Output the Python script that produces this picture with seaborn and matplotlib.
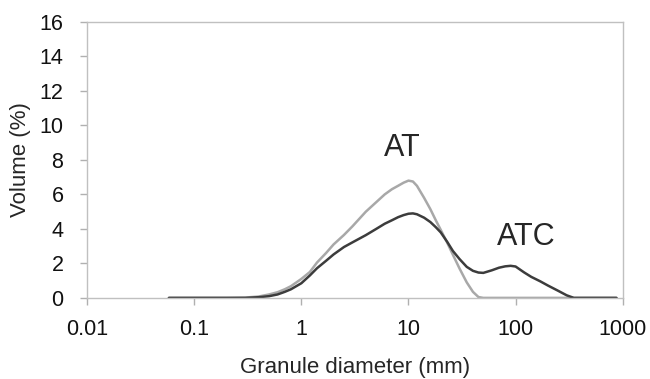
import numpy as np
import pandas as pd
import matplotlib
matplotlib.use("Agg")
import matplotlib.pyplot as plt
import seaborn as sns

sns.set_style("white")
plt.rcParams["font.family"] = ["Liberation Sans", "DejaVu Sans"]

# granule size classes (mm)
size_mm = [0.058, 0.1, 0.2, 0.3, 0.4, 0.5, 0.6, 0.7, 0.8, 1.0, 1.2, 1.4, 1.7,
           2.0, 2.5, 3.0, 4.0, 5.0, 6.0, 7.0, 8.0, 9.0, 10, 11, 12, 14, 16,
           18, 20, 23, 26, 30, 35, 40, 45, 50, 60, 70, 80, 90, 100, 120, 140,
           170, 200, 250, 300, 350, 400, 600, 875]

# AT (light curve)
vol_at = [0, 0, 0, 0.02, 0.08, 0.2, 0.33, 0.5, 0.68, 1.1, 1.5, 2.05, 2.6,
          3.1, 3.65, 4.15, 5.0, 5.55, 6.0, 6.3, 6.5, 6.68, 6.8, 6.75, 6.5,
          5.8, 5.15, 4.5, 3.95, 3.2, 2.5, 1.7, 0.9, 0.35, 0.05, 0, 0, 0, 0,
          0, 0, 0, 0, 0, 0, 0, 0, 0, 0, 0, 0]

# ATC (dark curve)
vol_atc = [0, 0, 0, 0, 0.04, 0.1, 0.2, 0.35, 0.5, 0.85, 1.3, 1.72, 2.15,
           2.52, 2.95, 3.22, 3.64, 4.0, 4.3, 4.5, 4.68, 4.8, 4.88, 4.9, 4.85,
           4.65, 4.4, 4.1, 3.8, 3.25, 2.72, 2.25, 1.8, 1.57, 1.47, 1.45, 1.6,
           1.75, 1.83, 1.86, 1.82, 1.48, 1.22, 0.96, 0.72, 0.41, 0.15, 0, 0,
           0, 0]

xtick_vals = [0.01, 0.1, 1, 10, 100, 1000]
xtick_labels = ["0.01", "0.1", "1", "10", "100", "1000"]
ytick_vals = [0, 2, 4, 6, 8, 10, 12, 14, 16]

df = pd.concat([
    pd.DataFrame({"size": size_mm, "vol": vol_at, "sample": "AT"}),
    pd.DataFrame({"size": size_mm, "vol": vol_atc, "sample": "ATC"}),
])

fig = plt.figure(figsize=(6.5, 3.79), dpi=100)
ax = fig.add_axes([0.134, 0.214, 0.824, 0.728])

sns.lineplot(data=df, x="size", y="vol", hue="sample",
             palette={"AT": "#a8a8a8", "ATC": "#3c3c3c"},
             hue_order=["AT", "ATC"], sort=False, estimator=None,
             linewidth=1.8, legend=False, ax=ax)

ax.set_xscale("log")
ax.set_xlim(0.01, 1000)
ax.set_ylim(0, 16)
ax.set_xticks(xtick_vals)
ax.set_xticklabels(xtick_labels)
ax.minorticks_off()
ax.set_yticks(ytick_vals)

ax.tick_params(axis="both", which="major", direction="out", length=5,
               width=1, color="#b0b0b0", labelsize=15.5, labelcolor="#111111",
               bottom=True, left=True)
ax.tick_params(axis="x", pad=10)
ax.tick_params(axis="y", pad=12)
for sp in ax.spines.values():
    sp.set_color("#c0c0c0")
    sp.set_linewidth(1)

ax.set_xlabel("Granule diameter (mm)", fontsize=16, labelpad=12.5)
ax.set_ylabel("Volume (%)", fontsize=16, labelpad=6)

ax.text(8.8, 8.7, "AT", fontsize=22, ha="center", va="center")
ax.text(127, 3.55, "ATC", fontsize=22, ha="center", va="center")

fig.savefig("out.png", dpi=100)
